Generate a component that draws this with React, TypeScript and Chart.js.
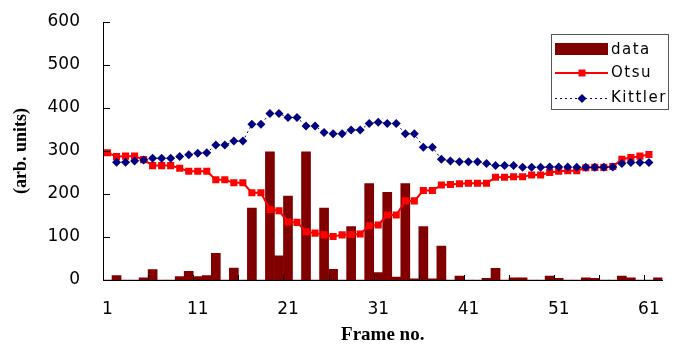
import React, { useEffect, useRef } from 'react';
import { Chart, registerables } from 'chart.js';

Chart.register(...registerables);

// Frame numbers (categories)
const frames = [
  1, 2, 3, 4, 5, 6, 7, 8, 9, 10,
  11, 12, 13, 14, 15, 16, 17, 18, 19, 20,
  21, 22, 23, 24, 25, 26, 27, 28, 29, 30,
  31, 32, 33, 34, 35, 36, 37, 38, 39, 40,
  41, 42, 43, 44, 45, 46, 47, 48, 49, 50,
  51, 52, 53, 54, 55, 56, 57, 58, 59, 60,
  61, 62,
];

// "data" bars
const dataValues = [
  0, 10, 0, 0, 5, 24, 0, 0, 8, 20,
  8, 10, 62, 0, 28, 0, 167, 0, 298, 56,
  195, 0, 298, 0, 167, 25, 0, 124, 0, 224,
  17, 204, 7, 224, 3, 124, 3, 79, 0, 9,
  0, 0, 4, 27, 0, 5, 5, 0, 0, 9,
  4, 0, 0, 5, 4, 0, 0, 9, 5, 0,
  0, 5,
];

// Otsu threshold line
const otsuValues = [
  296, 287, 288, 288, 280, 266, 266, 266, 260, 253,
  253, 253, 233, 233, 226, 226, 203, 203, 164, 161,
  135, 134, 112, 109, 105, 101, 105, 106, 107, 126,
  128, 151, 151, 184, 184, 208, 208, 221, 222, 224,
  225, 225, 225, 239, 239, 240, 240, 244, 244, 250,
  253, 254, 254, 261, 262, 262, 264, 281, 285, 288,
  292, null,
];

// Kittler threshold line
const kittlerValues = [
  null, 274, 274, 277, 279, 283, 283, 283, 287, 291,
  295, 296, 314, 314, 323, 323, 362, 362, 387, 387,
  378, 378, 358, 358, 343, 340, 340, 349, 349, 364,
  367, 364, 364, 340, 340, 309, 309, 281, 277, 275,
  275, 275, 271, 266, 266, 266, 262, 262, 262, 263,
  263, 263, 262, 262, 262, 262, 263, 271, 273, 273,
  273, null,
];

const xTickLabels = [1, 11, 21, 31, 41, 51, 61];
const xTickMarkFrames = [6, 11, 16, 21, 26, 31, 36, 41, 46, 51, 56, 61];
const yTickValues = [0, 100, 200, 300, 400, 500, 600];

const BAR_COLOR = '#800000';
const OTSU_COLOR = '#ff0000';
const KITTLER_COLOR = '#000080';

const decorPlugin = {
  id: 'decor',
  afterDraw(chart: any) {
    const { ctx, chartArea, scales } = chart;
    const x = scales.x;
    const y = scales.y;
    ctx.save();
    // inside tick marks
    ctx.strokeStyle = '#000';
    ctx.lineWidth = 1;
    ctx.beginPath();
    for (const v of yTickValues) {
      const py = Math.round(y.getPixelForValue(v)) + 0.5;
      ctx.moveTo(chartArea.left, py);
      ctx.lineTo(chartArea.left + 7, py);
    }
    const step = x.getPixelForValue(1) - x.getPixelForValue(0);
    for (const f of xTickMarkFrames) {
      const idx = frames.indexOf(f);
      const px = Math.round(x.getPixelForValue(idx) - step / 2) + 0.5;
      ctx.moveTo(px, chartArea.bottom);
      ctx.lineTo(px, chartArea.bottom - 5);
    }
    ctx.stroke();

    // legend
    const bx = 551.5, by = 34.5, bw = 117, bh = 75;
    ctx.fillStyle = '#fff';
    ctx.fillRect(bx, by, bw, bh);
    ctx.strokeStyle = '#555';
    ctx.strokeRect(bx, by, bw, bh);

    const sx0 = 555, sx1 = 608, mx = 582;
    // data
    ctx.fillStyle = BAR_COLOR;
    ctx.fillRect(sx0, 43, sx1 - sx0, 12);
    // Otsu
    ctx.strokeStyle = OTSU_COLOR;
    ctx.lineWidth = 2;
    ctx.beginPath();
    ctx.moveTo(sx0, 73);
    ctx.lineTo(sx1, 73);
    ctx.stroke();
    ctx.fillStyle = OTSU_COLOR;
    ctx.fillRect(mx - 3.5, 73 - 3.5, 7, 7);
    // Kittler
    ctx.strokeStyle = KITTLER_COLOR;
    ctx.lineWidth = 1;
    ctx.setLineDash([2, 3]);
    ctx.beginPath();
    ctx.moveTo(sx0, 98.5);
    ctx.lineTo(sx1, 98.5);
    ctx.stroke();
    ctx.setLineDash([]);
    ctx.fillStyle = KITTLER_COLOR;
    ctx.beginPath();
    ctx.moveTo(mx, 98.5 - 4.5);
    ctx.lineTo(mx + 4.5, 98.5);
    ctx.lineTo(mx, 98.5 + 4.5);
    ctx.lineTo(mx - 4.5, 98.5);
    ctx.closePath();
    ctx.fill();

    ctx.fillStyle = '#000';
    ctx.font = '15px "DejaVu Sans", sans-serif';
    (ctx as any).letterSpacing = '1.5px';
    ctx.textBaseline = 'middle';
    ctx.textAlign = 'left';
    ctx.fillText('data', 611, 50);
    ctx.fillText('Otsu', 611, 73);
    ctx.fillText('Kittler', 611, 98.5);
    (ctx as any).letterSpacing = '0px';
    ctx.restore();
  },
};

export default function App() {
  const ref = useRef<HTMLCanvasElement>(null);

  useEffect(() => {
    const canvas = ref.current!;
    const chart = new Chart(canvas, {
      type: 'bar',
      data: {
        labels: frames.map(String),
        datasets: [
          {
            type: 'line',
            label: 'Kittler',
            data: kittlerValues,
            borderColor: KITTLER_COLOR,
            borderWidth: 1,
            borderDash: [2, 3],
            pointStyle: 'rectRot',
            pointRadius: 4.5,
            pointBackgroundColor: KITTLER_COLOR,
            pointBorderColor: KITTLER_COLOR,
            pointBorderWidth: 0,
            order: 1,
          } as any,
          {
            type: 'line',
            label: 'Otsu',
            data: otsuValues,
            borderColor: OTSU_COLOR,
            borderWidth: 2,
            pointStyle: 'rect',
            pointRadius: 5,
            pointBackgroundColor: OTSU_COLOR,
            pointBorderColor: OTSU_COLOR,
            pointBorderWidth: 0,
            order: 2,
          } as any,
          {
            type: 'bar',
            label: 'data',
            data: dataValues,
            backgroundColor: BAR_COLOR,
            borderWidth: 0,
            barPercentage: 1,
            categoryPercentage: 1,
            order: 3,
          } as any,
        ],
      },
      options: {
        responsive: false,
        animation: false,
        devicePixelRatio: 1,
        layout: { padding: { left: 0, right: 5, top: 22, bottom: 0 } },
        plugins: {
          legend: { display: false },
          tooltip: { enabled: false },
        },
        scales: {
          x: {
            type: 'category',
            offset: true,
            grid: { display: false, drawTicks: false },
            border: { display: true, color: '#000', width: 1 },
            ticks: {
              autoSkip: false,
              maxRotation: 0,
              minRotation: 0,
              padding: 19,
              color: '#000',
              font: { family: '"DejaVu Sans", sans-serif', size: 17 },
              callback: (_v: any, idx: number) =>
                xTickLabels.includes(frames[idx]) ? String(frames[idx]) : '',
            },
            title: {
              display: true,
              text: 'Frame no.',
              color: '#000',
              font: { family: '"Liberation Serif", "Times New Roman", serif', size: 19, weight: 'bold' },
              padding: { top: 0, bottom: 1 },
            },
            afterFit: (s: any) => {
              s.height = 67;
            },
          },
          y: {
            min: 0,
            max: 600,
            grid: { display: false, drawTicks: false },
            border: { display: true, color: '#000', width: 1 },
            ticks: {
              stepSize: 100,
              padding: 23,
              color: '#000',
              font: { family: '"DejaVu Sans", sans-serif', size: 17 },
            },
            title: {
              display: true,
              text: '(arb. units)',
              color: '#000',
              font: { family: '"Liberation Serif", "Times New Roman", serif', size: 18, weight: 'bold' },
              padding: { top: 11, bottom: 0 },
            },
            afterFit: (s: any) => {
              s.width = 103;
              s.paddingTop = 0;
              s.paddingBottom = 0;
            },
          },
        },
      } as any,
      plugins: [decorPlugin],
    });
    return () => chart.destroy();
  }, []);

  return (
    <div style={{ position: 'fixed', left: 0, top: 0, width: 677, height: 347, background: '#fff' }}>
      <canvas ref={ref} width={677} height={347} style={{ display: 'block', width: 677, height: 347 }} />
    </div>
  );
}
